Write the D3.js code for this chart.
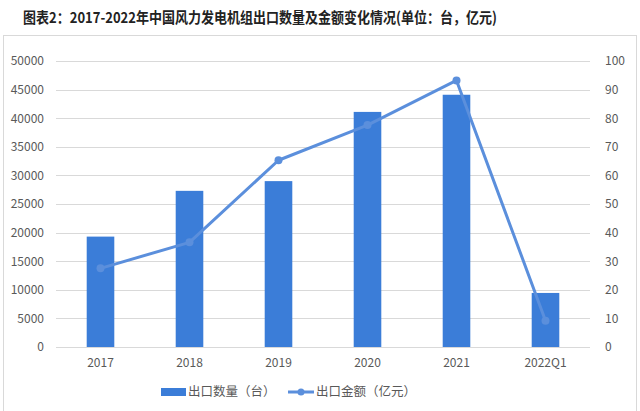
<!DOCTYPE html>
<html><head><meta charset="utf-8">
<script src="https://cdn.jsdelivr.net/npm/d3@7/dist/d3.min.js"></script>
<style>body{margin:0;background:#fff;}svg{display:block;font-family:"Noto Sans CJK SC","Microsoft YaHei",sans-serif;}</style>
</head><body><svg id="c" width="640" height="411"></svg>
<script>
const categories = ["2017","2018","2019","2020","2021","2022Q1"];
const quantity = [19300, 27300, 29000, 41100, 44100, 9450];
const amount = [27.5, 36.6, 65.3, 77.6, 93.2, 9.2];
const leftTicks = [0,5000,10000,15000,20000,25000,30000,35000,40000,45000,50000];
const rightTicks = [0,10,20,30,40,50,60,70,80,90,100];
const title = "图表2：2017-2022年中国风力发电机组出口数量及金额变化情况(单位：台，亿元)";
const legendLabels = ["出口数量（台）","出口金额（亿元）"];

const svg = d3.select("#c");
const barColor = "#3b7dd8", lineColor = "#5b8fdc", textColor = "#595959", gridColor = "#d9d9d9";

svg.append("text").attr("x", 23).attr("y", 23).attr("text-anchor","start")
  .attr("font-size", 15).attr("font-weight","bold").attr("fill","#222")
  .attr("textLength", 474).attr("lengthAdjust","spacingAndGlyphs").text(title);

svg.append("rect").attr("x",3.5).attr("y",35.5).attr("width",633).attr("height",380)
  .attr("fill","none").attr("stroke","#d9d9d9");

const x = d3.scaleBand().domain(categories).range([56, 590]).paddingInner(0.69).paddingOuter(0.345);
const yL = d3.scaleLinear().domain([0,50000]).range([347, 61]);
const yR = d3.scaleLinear().domain([0,100]).range([347, 61]);

// grid
svg.append("g").selectAll("line").data(leftTicks).join("line")
  .attr("x1",56).attr("x2",590).attr("y1",d=>Math.round(yL(d))+0.5).attr("y2",d=>Math.round(yL(d))+0.5)
  .attr("stroke",gridColor).attr("stroke-width",1);

const axL = svg.append("g").attr("transform","translate(48,0)")
  .call(d3.axisLeft(yL).tickValues(leftTicks).tickSize(0).tickPadding(4).tickFormat(d3.format("d")));
const axR = svg.append("g").attr("transform","translate(601,0)")
  .call(d3.axisRight(yR).tickValues(rightTicks).tickSize(0).tickPadding(4).tickFormat(d3.format("d")));
const axX = svg.append("g").attr("transform","translate(0,347)")
  .call(d3.axisBottom(x).tickSize(0).tickPadding(11));
[axL,axR,axX].forEach(a=>{
  a.select(".domain").remove();
  a.selectAll("text").attr("fill",textColor).attr("font-size",12).attr("font-family","'Noto Sans CJK SC',sans-serif");
});

// bars
svg.append("g").selectAll("rect").data(categories).join("rect")
  .attr("x",d=>x(d)).attr("width",x.bandwidth())
  .attr("y",(d,i)=>yL(quantity[i])).attr("height",(d,i)=>yL(0)-yL(quantity[i]))
  .attr("fill",barColor);

// line
const cx = d=>x(d)+x.bandwidth()/2;
const line = d3.line().x((d,i)=>cx(categories[i])).y(d=>yR(d));
svg.append("path").datum(amount).attr("d",line).attr("fill","none")
  .attr("stroke",lineColor).attr("stroke-width",3).attr("stroke-linejoin","round");
svg.append("g").selectAll("circle").data(amount).join("circle")
  .attr("cx",(d,i)=>cx(categories[i])).attr("cy",d=>yR(d)).attr("r",4).attr("fill",lineColor);

// legend
const lg = svg.append("g");
lg.append("rect").attr("x",161).attr("y",388).attr("width",25).attr("height",8).attr("fill",barColor);
lg.append("text").attr("x",188).attr("y",396).attr("font-size",12.5).attr("fill",textColor).text(legendLabels[0]);
lg.append("line").attr("x1",288).attr("x2",314).attr("y1",392).attr("y2",392).attr("stroke",lineColor).attr("stroke-width",3);
lg.append("circle").attr("cx",301).attr("cy",392).attr("r",3.5).attr("fill",lineColor);
lg.append("text").attr("x",316).attr("y",396).attr("font-size",12.5).attr("fill",textColor).text(legendLabels[1]);
</script></body></html>
